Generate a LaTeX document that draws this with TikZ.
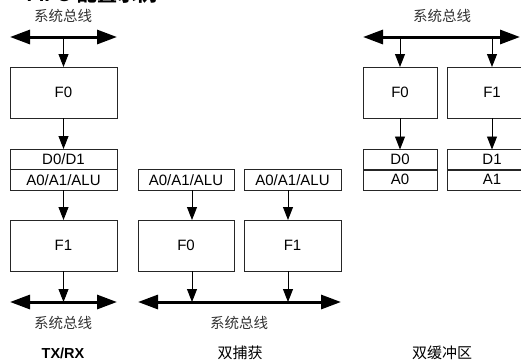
\documentclass[tikz,border=0pt]{standalone}
\usepackage{fontspec}
\setmainfont{Liberation Sans}
\newfontfamily\cjk{Noto Sans CJK SC}
\usetikzlibrary{arrows.meta,calc}
\begin{document}
\begin{tikzpicture}[x=1pt,y=-1pt,
  fbox/.style={draw=black!85,line width=0.9pt,inner sep=0pt,outer sep=0pt,anchor=north west,minimum height=51pt,font=\fontsize{15}{17}\selectfont},
  reg/.style={draw=black!85,line width=0.9pt,inner sep=0pt,outer sep=0pt,anchor=north west,minimum height=20.5pt,font=\fontsize{15}{17}\selectfont},
  arr/.style={-{Triangle[length=13pt,width=10pt]},line width=0.9pt},
  bus/.style={{Triangle[length=20pt,width=14pt]}-{Triangle[length=20pt,width=14pt]},line width=3pt},
  lab/.style={font=\cjk\fontsize{14.5}{16}\selectfont,text=black!80,inner sep=0pt},
  captxt/.style={inner sep=0pt}
]
\useasboundingbox (0,0) rectangle (521,362);
\clip (0,0) rectangle (521,362);

% title (clipped at top, as in the reference)
\node[anchor=base east,inner sep=0pt,font=\bfseries\fontsize{20}{24}\selectfont] (title) at (158,1.5) {FIFO {\cjk 配置示例}};

% ---------- TX/RX ----------
\node[lab] (lt) at (63,16) {系统总线};
\coordinate (lb1) at (10,37);
\coordinate (lb2) at (117,37);
\draw[bus] (lb1) -- (lb2);
\node[fbox,minimum width=107pt] (lf0) at (10,67) {F0};
\node[reg,minimum width=107pt] (ld) at (10,149) {D0/D1};
\node[reg,minimum width=107pt] (la) at (10,169.5) {A0/A1/ALU};
\node[fbox,minimum width=107pt] (lf1) at (10,220) {F1};
\coordinate (lc1) at (10,302);
\coordinate (lc2) at (117,302);
\draw[bus] (lc1) -- (lc2);
\draw[arr] (lb1 -| lf0.north) -- (lf0.north);
\draw[arr] (lf0.south) -- (ld.north);
\draw[arr] (la.south) -- (lf1.north);
\draw[arr] (lf1.south) -- (lf1.south |- lc1);
\node[lab] (lbot) at (63,323) {系统总线};
\node[captxt,font=\bfseries\fontsize{14.5}{17}\selectfont] (capl) at (63,353) {TX/RX};

% ---------- dual capture ----------
\node[reg,minimum width=96pt] (ma0) at (138,169.5) {A0/A1/ALU};
\node[reg,minimum width=97pt] (ma1) at (244,169.5) {A0/A1/ALU};
\node[fbox,minimum width=96pt] (mf0) at (138,220) {F0};
\node[fbox,minimum width=97pt] (mf1) at (244,220) {F1};
\coordinate (mb1) at (138,302);
\coordinate (mb2) at (341,302);
\draw[bus] (mb1) -- (mb2);
\draw[arr] ([xshift=6pt]ma0.south) -- ([xshift=6pt]mf0.north);
\draw[arr] ([xshift=-4.5pt]ma1.south) -- ([xshift=-4.5pt]mf1.north);
\draw[arr] ([xshift=6pt]mf0.south) -- ([xshift=6pt]mf0.south |- mb1);
\draw[arr] ([xshift=-4.5pt]mf1.south) -- ([xshift=-4.5pt]mf1.south |- mb1);
\node[lab] (mbot) at (239,323) {系统总线};
\node[captxt,font=\cjk\fontsize{15}{18}\selectfont] (capm) at (240,353) {双捕获};

% ---------- dual buffer ----------
\node[lab] (rt) at (442,16) {系统总线};
\coordinate (rb1) at (363,37);
\coordinate (rb2) at (520,37);
\draw[bus] (rb1) -- (rb2);
\node[fbox,minimum width=74pt] (rf0) at (363,67) {F0};
\node[fbox,minimum width=90pt] (rf1) at (447,67) {F1};
\node[reg,minimum width=74pt] (rd0) at (363,149.5) {D0};
\node[reg,minimum width=74pt] (ra0) at (363,169.5) {A0};
\node[reg,minimum width=90pt] (rd1) at (447,149.5) {D1};
\node[reg,minimum width=90pt] (ra1) at (447,169.5) {A1};
\draw[arr] (rb1 -| rf0.north) -- (rf0.north);
\draw[arr] (rb1 -| rf1.north) -- (rf1.north);
\draw[arr] (rf0.south) -- (rd0.north);
\draw[arr] (rf1.south) -- (rd1.north);
\node[captxt,font=\cjk\fontsize{15}{18}\selectfont] (capr) at (442,353) {双缓冲区};
\end{tikzpicture}
\end{document}
